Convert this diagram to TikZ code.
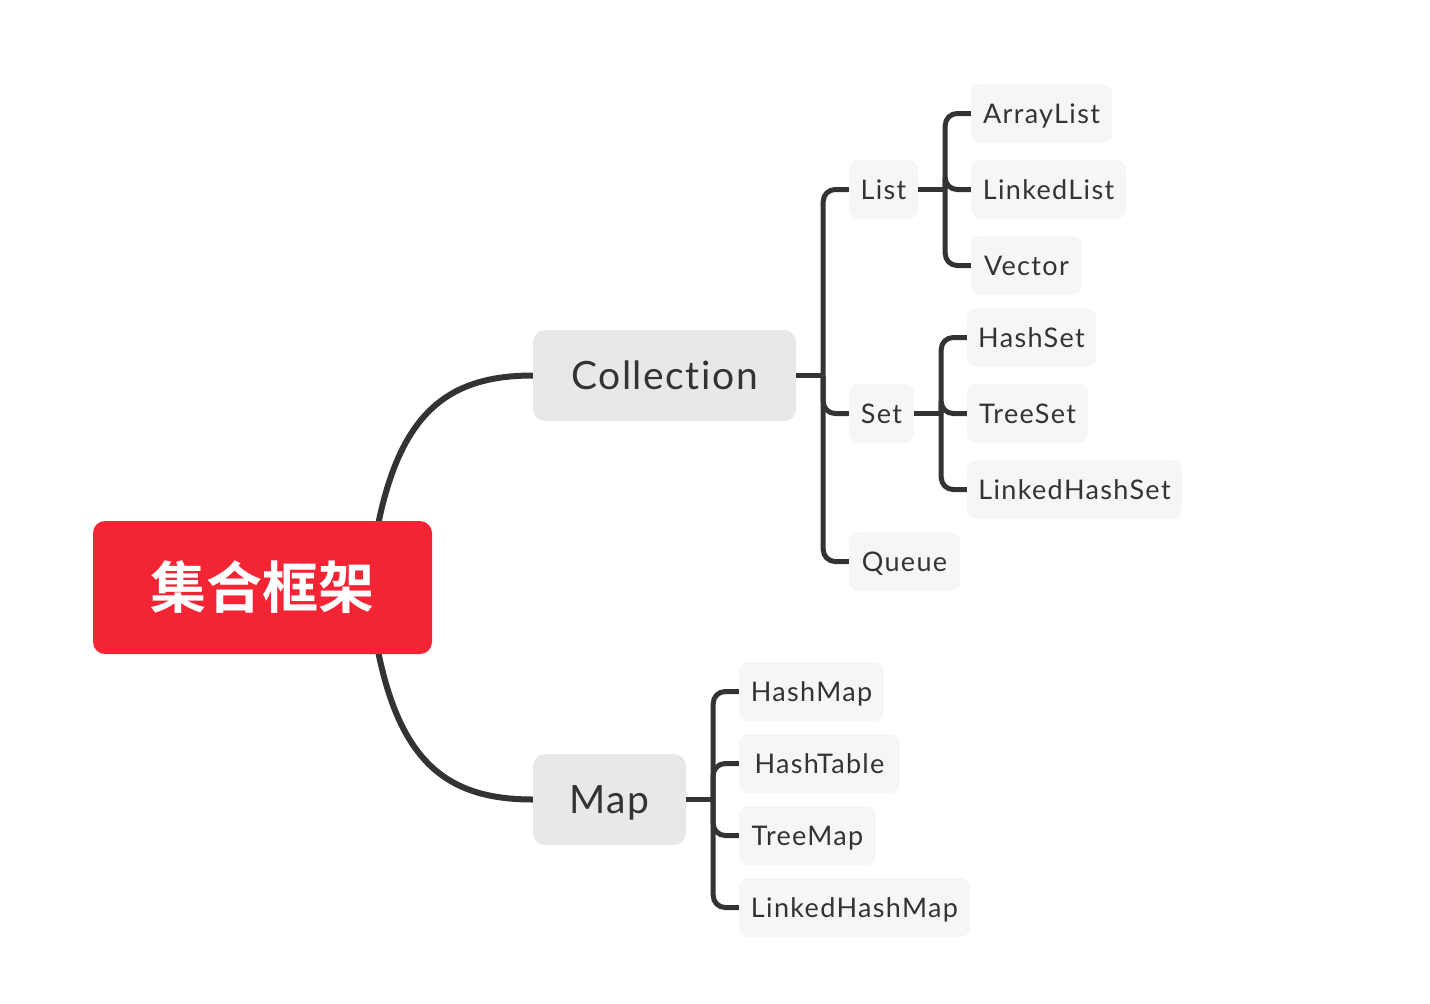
\documentclass[tikz,border=0pt]{standalone}
\usepackage{fontspec}
\setmainfont{Lato}[Ligatures=CommonOff]
\newfontfamily\cjkbold{Noto Sans CJK SC Bold}
\definecolor{rootred}{HTML}{F32535}
\definecolor{mainfill}{HTML}{E8E8E8}
\definecolor{leaffill}{HTML}{F6F6F6}
\definecolor{ink}{HTML}{333333}
\tikzset{
  rootbox/.style={fill=rootred, rounded corners=12pt, minimum width=339pt, minimum height=133pt, inner sep=0pt, text=white, font=\cjkbold\fontsize{56}{60}\selectfont},
  mainbox/.style={fill=mainfill, rounded corners=12pt, minimum height=91pt, inner sep=0pt, text=ink, text height=28pt, text depth=0pt, font=\fontsize{39}{44}\selectfont\addfontfeatures{LetterSpace=4}},
  leafbox/.style={fill=leaffill, rounded corners=10pt, minimum height=59pt, inner sep=0pt, text=ink, text height=19pt, text depth=0pt, font=\fontsize{27}{30}\selectfont\addfontfeatures{LetterSpace=5}},
  conn/.style={draw=ink, line width=5pt, rounded corners=12pt},
  curveconn/.style={draw=ink, line width=6pt},
}
\begin{document}
\begin{tikzpicture}[x=1pt,y=-1pt]
\useasboundingbox[fill=white] (0,0) rectangle (1430,1004);
% main nodes
\node[mainbox, minimum width=263pt] (coll) at (664.5,375.5) {Collection};
\node[mainbox, minimum width=153pt] (map) at (609.5,799.5) {Map};
% curves behind root
\coordinate (rtop) at (372,560);
\coordinate (rbot) at (372,616);
\draw[curveconn] (rtop) .. controls (392,420) and (440,375.5) .. (coll.west);
\draw[curveconn] (rbot) .. controls (392,756) and (440,799.5) .. (map.west);
\node[rootbox] (root) at (262.5,587.5) {集合框架};
% second level
\node[leafbox, minimum width=69pt] (list) at (883.5,189.5) {List};
\node[leafbox, minimum width=65pt] (set) at (881.5,413.5) {Set};
\node[leafbox, minimum width=111pt] (queue) at (904.5,561.5) {Queue};
% list children
\node[leafbox, minimum width=141pt] (al) at (1041.5,113.5) {ArrayList};
\node[leafbox, minimum width=155pt] (ll) at (1048.5,189.5) {LinkedList};
\node[leafbox, minimum width=111pt] (vec) at (1026.5,265.5) {Vector};
% set children
\node[leafbox, minimum width=129pt] (hs) at (1031.5,337.5) {HashSet};
\node[leafbox, minimum width=121pt] (ts) at (1027.5,413.5) {TreeSet};
\node[leafbox, minimum width=215pt] (lhs) at (1074.5,489.5) {LinkedHashSet};
% map children
\node[leafbox, minimum width=145pt] (hm) at (811.5,691.5) {HashMap};
\node[leafbox, minimum width=161pt] (ht) at (819.5,763.5) {HashTable};
\node[leafbox, minimum width=137pt] (tm) at (807.5,835.5) {TreeMap};
\node[leafbox, minimum width=231pt] (lhm) at (854.5,907.5) {LinkedHashMap};
% connectors: collection
\draw[conn] (coll.east) -- ++(27,0) coordinate (cj);
\draw[conn] (cj) |- (list.west);
\draw[conn] (cj) |- (set.west);
\draw[conn] (cj) |- (queue.west);
% list
\draw[conn] (list.east) -- ++(27,0) coordinate (lj);
\draw[conn] (lj) |- (al.west);
\draw[conn] (lj) |- (ll.west);
\draw[conn] (lj) |- (vec.west);
% set
\draw[conn] (set.east) -- ++(27,0) coordinate (sj);
\draw[conn] (sj) |- (hs.west);
\draw[conn] (sj) |- (ts.west);
\draw[conn] (sj) |- (lhs.west);
% map
\draw[conn] (map.east) -- ++(27,0) coordinate (mj);
\draw[conn] (mj) |- (hm.west);
\draw[conn] (mj) |- (ht.west);
\draw[conn] (mj) |- (tm.west);
\draw[conn] (mj) |- (lhm.west);
\end{tikzpicture}
\end{document}
